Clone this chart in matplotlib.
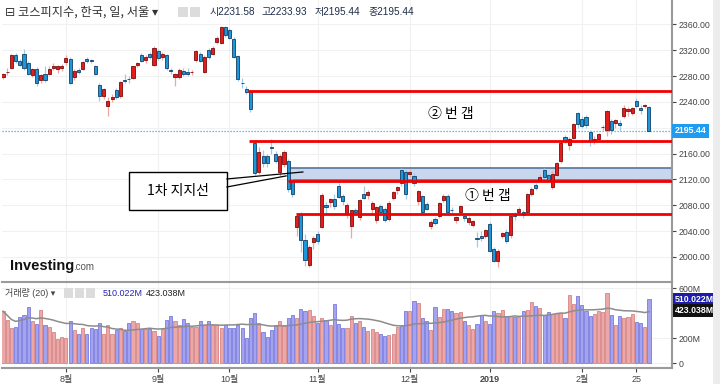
import numpy as np
import pandas as pd
import matplotlib
matplotlib.use("Agg")
import matplotlib.pyplot as plt
from matplotlib.patches import Rectangle

plt.rcParams['font.family'] = ['Liberation Sans', 'Noto Sans CJK KR', 'DejaVu Sans']

# --- daily KOSPI candles, 2018-07-11 .. 2019-02-28 ---
opens = [2279, 2286, 2293, 2313, 2304, 2315, 2300, 2282, 2291, 2274,
         2284, 2284, 2293, 2291, 2293, 2302, 2306, 2279, 2290, 2291,
         2307, 2304, 2296, 2267, 2250, 2234, 2245, 2259, 2249, 2274,
         2276, 2277, 2297, 2313, 2305, 2314, 2298, 2319, 2309, 2312,
         2289, 2278, 2278, 2288, 2287, 2286, 2305, 2315, 2287, 2320,
         2315, 2333, 2332, 2356, 2351, 2338, 2311, 2270, 2260, 2256,
         2177, 2132, 2156, 2156, 2170, 2159, 2132, 2144, 2148, 2117,
         2047, 2067, 2026, 1987, 2023, 2036, 2047, 2081, 2085, 2090,
         2110, 2094, 2067, 2048, 2073, 2062, 2098, 2096, 2074, 2057,
         2079, 2074, 2059, 2092, 2104, 2135, 2132, 2128, 2126, 2087,
         2094, 2082, 2048, 2059, 2063, 2088, 2095, 2073, 2058, 2069,
         2064, 2054, 2050, 2030, 2033, 2033, 2051, 2012, 1994, 2033,
         2039, 2034, 2067, 2070, 2070, 2070, 2098, 2111, 2119, 2135,
         2127, 2108, 2127, 2148, 2185, 2173, 2184, 2223, 2213, 2217,
         2193, 2181, 2183, 2201, 2196, 2211, 2208, 2208, 2218, 2226,
         2223, 2242, 2230, 2234, 2231.58]
highs = [2285, 2292, 2315, 2316, 2307, 2322, 2303, 2293, 2294, 2284,
         2295, 2296, 2300, 2298, 2299, 2313, 2309, 2291, 2293, 2304,
         2310, 2306, 2298, 2270, 2262, 2248, 2252, 2262, 2272, 2283,
         2280, 2296, 2302, 2316, 2312, 2318, 2326, 2322, 2318, 2315,
         2293, 2285, 2292, 2293, 2292, 2290, 2321, 2318, 2312, 2323,
         2326, 2342, 2357, 2358, 2354, 2340, 2313, 2277, 2264, 2258,
         2181, 2170, 2166, 2160, 2182, 2164, 2160, 2165, 2152, 2120,
         2068, 2070, 2035, 2018, 2033, 2040, 2099, 2085, 2092, 2097,
         2114, 2098, 2083, 2073, 2076, 2090, 2110, 2103, 2086, 2079,
         2082, 2077, 2086, 2102, 2110, 2138, 2136, 2136, 2130, 2104,
         2096, 2085, 2058, 2062, 2085, 2097, 2098, 2077, 2064, 2080,
         2067, 2064, 2058, 2038, 2040, 2044, 2054, 2015, 2012, 2039,
         2044, 2066, 2070, 2078, 2073, 2099, 2108, 2114, 2128, 2137,
         2130, 2133, 2147, 2179, 2189, 2185, 2208, 2225, 2218, 2220,
         2196, 2188, 2192, 2205, 2228, 2214, 2214, 2212, 2236, 2232,
         2232, 2246, 2235, 2237, 2233.93]
lows = [2276, 2282, 2291, 2300, 2296, 2290, 2281, 2278, 2265, 2270,
        2271, 2281, 2289, 2285, 2288, 2298, 2268, 2274, 2283, 2290,
        2300, 2300, 2281, 2241, 2245, 2219, 2240, 2244, 2246, 2269,
        2270, 2275, 2294, 2302, 2300, 2307, 2296, 2305, 2305, 2290,
        2283, 2265, 2275, 2280, 2280, 2281, 2302, 2302, 2285, 2307,
        2313, 2330, 2330, 2341, 2337, 2308, 2272, 2262, 2252, 2225,
        2127, 2128, 2140, 2140, 2160, 2146, 2125, 2140, 2100, 2093,
        2033, 2008, 1986, 1985, 2012, 2020, 2045, 2068, 2078, 2074,
        2092, 2080, 2060, 2030, 2066, 2058, 2090, 2090, 2068, 2052,
        2068, 2054, 2056, 2088, 2098, 2110, 2090, 2124, 2110, 2080,
        2066, 2072, 2044, 2050, 2060, 2085, 2068, 2066, 2052, 2066,
        2056, 2050, 2046, 2016, 2025, 2030, 2008, 1992, 1984, 2030,
        2022, 2030, 2058, 2066, 2060, 2068, 2094, 2104, 2117, 2122,
        2117, 2105, 2125, 2146, 2176, 2165, 2183, 2200, 2200, 2200,
        2172, 2175, 2180, 2196, 2188, 2190, 2200, 2195, 2215, 2218,
        2220, 2230, 2222, 2230, 2195.44]
closes = [2283, 2287, 2312, 2303, 2298, 2292, 2283, 2291, 2270, 2281,
          2274, 2291, 2296, 2295, 2296, 2308, 2270, 2288, 2287, 2302,
          2303, 2303.5, 2283, 2249, 2260, 2241, 2248, 2248, 2271, 2273,
          2275, 2295, 2300, 2304, 2309, 2309, 2324, 2308, 2315, 2292,
          2288, 2283, 2289, 2283, 2283, 2286.5, 2319, 2304, 2310, 2309,
          2324, 2339, 2356, 2344, 2339, 2310, 2275, 2269, 2255, 2229,
          2130, 2163, 2145, 2145, 2168, 2149, 2157, 2162, 2106, 2098,
          2064, 2027, 1996, 2015, 2030, 2024, 2096, 2077, 2090, 2079,
          2093, 2086, 2081, 2072, 2069, 2088, 2092, 2101, 2083, 2077,
          2070, 2057, 2084, 2100, 2108, 2114, 2097, 2132, 2114, 2102,
          2069, 2075, 2054, 2053, 2083, 2095, 2070, 2072, 2062, 2079,
          2060, 2061, 2055, 2028, 2029, 2041, 2010, 1993, 2010, 2037,
          2025, 2064, 2063, 2075, 2065, 2097, 2106, 2107, 2124, 2124,
          2119, 2128, 2145, 2177, 2181, 2183, 2206, 2206, 2203, 2204,
          2180, 2181.5, 2190, 2201.5, 2226, 2196, 2212, 2205, 2231, 2229,
          2231, 2233, 2227, 2234.5, 2195.44]
# volume, millions of shares
volumes = [416, 349, 283, 288, 368, 389, 451, 341, 315, 424,
           309, 288, 251, 195, 208, 203, 336, 261, 235, 283,
           235, 283, 269, 323, 235, 309, 229, 261, 277, 256,
           323, 336, 323, 269, 269, 269, 256, 216, 269, 349,
           381, 336, 309, 357, 323, 288, 288, 336, 309, 336,
           309, 309, 283, 304, 283, 277, 309, 283, 203, 363,
           400, 323, 251, 208, 261, 309, 336, 296, 363, 389,
           363, 437, 416, 429, 376, 323, 363, 344, 304, 475,
           315, 283, 283, 376, 323, 336, 288, 256, 269, 251,
           235, 216, 224, 229, 288, 296, 416, 421, 496, 483,
           363, 336, 261, 448, 368, 437, 437, 416, 403, 411,
           341, 301, 269, 315, 389, 336, 315, 421, 403, 429,
           376, 376, 368, 368, 421, 429, 491, 456, 443, 389,
           411, 395, 400, 403, 363, 544, 475, 536, 469, 416,
           376, 395, 416, 411, 563, 389, 301, 376, 363, 368,
           395, 328, 323, 288, 510.022]

month_ticks = [15, 37, 54, 75, 97, 116, 138, 151]
month_labels = ['8월', '9월', '10월', '11월', '12월', '2019', '2월', '25']
price_ticks = [2000, 2040, 2080, 2120, 2160, 2200, 2240, 2280, 2320, 2360]

gap_levels = [2257, 2180, 2118, 2067]
gap_start = [58.5, 58.6, 67.9, 69.8]
support_zone = (2119, 2137)

last_close = 2195.44
vol_last, vol_ma_last = 510.022, 423.038

W, H = 720, 384
fig = plt.figure(figsize=(W / 100, H / 100), dpi=100)
fig.patch.set_facecolor('white')

def fx(px):
    return px / W

def fy(py):
    return 1 - py / H

ax = fig.add_axes([fx(2), fy(281), fx(672) - fx(2), fy(0) - fy(281)])
vax = fig.add_axes([fx(2), fy(368), fx(672) - fx(2), fy(282) - fy(368)], sharex=ax)

x = np.arange(len(closes))
o, h, l, c = map(np.array, (opens, highs, lows, closes))
up = c >= o

# price panel
body_fill = np.where(up, '#e51c1c', '#1d97dc')
body_edge = np.where(up, '#7a0c0c', '#153e62')
wick_col = np.where(up, '#f2a3a3', '#9fcbe6')
ax.vlines(x, l, h, colors=wick_col, lw=0.9, zorder=2)
ax.bar(x, np.maximum(np.abs(c - o), 0.9), 0.74, bottom=np.minimum(o, c),
       color=body_fill, edgecolor=body_edge, lw=0.6, zorder=3)

xmax = 159.5
ax.set_xlim(-0.24, xmax)
ax.set_ylim(1962.8, 2397.9)

ax.add_patch(Rectangle((gap_start[2], support_zone[0]), xmax - gap_start[2],
                       support_zone[1] - support_zone[0],
                       fc='#c8d7ee', ec='#56749c', lw=1.2, zorder=1.5))
for lev, st in zip(gap_levels, gap_start):
    ax.hlines(lev, st, xmax, colors='#f20000', lw=2.0, zorder=4)

ax.axhline(last_close, color='#3aa8f2', ls=(0, (1, 1.4)), lw=0.9, zorder=1)

# annotations
kr = ['Noto Sans CJK KR', 'DejaVu Sans']
ax.text(106.8, 2221, '② 번 갭', fontsize=10, ha='center', va='center',
        family=kr, zorder=6)
ax.text(115.6, 2095, '① 번 갭', fontsize=10, ha='center', va='center',
        family=kr, zorder=6)
ax.add_patch(Rectangle((30.0, 2072.8), 23.4, 58.8, fc='white', ec='black',
                       lw=1.0, zorder=7))
ax.plot([53.4, 71.5], [2120.8, 2131.6], color='black', lw=0.9, zorder=7)
ax.plot([53.4, 67.5], [2108.4, 2125.5], color='black', lw=0.9, zorder=7)
ax.text(41.7, 2102, '1차 지지선', fontsize=10, ha='center', va='center',
        family=kr, zorder=8)

ax.set_yticks(price_ticks)
# the 2200 label sits behind the last-price box
ax.set_yticklabels(['' if p == 2200 else f'{p:.2f}' for p in price_ticks])
ax.yaxis.tick_right()
ax.tick_params(axis='y', labelsize=6.3, colors='#444444', length=3, pad=2)
ax.tick_params(axis='x', bottom=False, labelbottom=False)
ax.set_xticks(month_ticks)
ax.grid(True, color='#f1f1f1', lw=0.8, zorder=0)
ax.set_axisbelow(True)
for side in ('top', 'left', 'bottom'):
    ax.spines[side].set_visible(False)
ax.spines['right'].set_color('#9a9a9a')
ax.spines['right'].set_linewidth(1.5)

ax.text(1.004, last_close, f'{last_close:.2f}', transform=ax.get_yaxis_transform(),
        ha='left', va='center', fontsize=6.3, color='white', weight='bold',
        bbox=dict(boxstyle='square,pad=0.3', fc='#1f9bf0', ec='none'), zorder=10,
        clip_on=False)

# volume panel
vax.bar(x, volumes, 0.75, color=np.where(up, '#eba8a8', '#a3a3ee'),
        edgecolor=np.where(up, '#d98383', '#7b7be0'), lw=0.6, zorder=2)
vma = pd.Series(volumes).rolling(20, min_periods=1).mean()
vax.plot(x, vma, color='#8c8c8c', lw=1.1, zorder=3)
vax.set_ylim(-40, 650)
vax.set_yticks([0, 200, 600])
vax.set_yticklabels(['0', '200M', '600M'])
vax.yaxis.tick_right()
vax.tick_params(axis='y', labelsize=6.3, colors='#444444', length=3, pad=2)
vax.set_xticks(month_ticks)
vax.set_xticklabels(month_labels)
vax.tick_params(axis='x', labelsize=6.5, colors='#444444', length=3, pad=2)
for t in vax.get_xticklabels():
    if t.get_text() == '2019':
        t.set_fontweight('bold')
vax.grid(True, color='#f1f1f1', lw=0.8, zorder=0)
vax.set_axisbelow(True)
vax.spines['left'].set_visible(False)
for side in ('top', 'bottom', 'right'):
    vax.spines[side].set_color('#9a9a9a')
    vax.spines[side].set_linewidth(1.5)

vax.text(1.004, vol_last, f'{vol_last:.3f}M', transform=vax.get_yaxis_transform(),
         ha='left', va='center', fontsize=6.3, color='white', weight='bold',
         bbox=dict(boxstyle='square,pad=0.2', fc='#1c1ca8', ec='none'), zorder=10,
         clip_on=False)
vax.text(1.004, vol_ma_last, f'{vol_ma_last:.3f}M', transform=vax.get_yaxis_transform(),
         ha='left', va='center', fontsize=6.3, color='white', weight='bold',
         bbox=dict(boxstyle='square,pad=0.2', fc='#111111', ec='none'), zorder=10,
         clip_on=False)

# header texts
fig.text(fx(5), fy(12), '⊟ 코스피지수, 한국, 일, 서울 ▾', fontsize=8.8, color='#333333',
         va='center', ha='left', family=['Noto Sans CJK KR', 'DejaVu Sans'])
for px_, lab in zip([210, 261, 315, 369],
                    ['시2231.58', '고2233.93', '저2195.44', '종2195.44']):
    fig.text(fx(px_), fy(12), lab, fontsize=7.2, color='#1f2d4a', va='center', ha='left')
for px_ in (183, 195):
    fig.patches.append(Rectangle((fx(px_ - 5), fy(17)), fx(10), fy(7) - fy(17),
                                 transform=fig.transFigure, fc='#dcdcdc', ec='none'))
fig.text(fx(5), fy(293), '거래량 (20) ▾', fontsize=6.5, color='#444444', va='center',
         ha='left')
for px_ in (69, 80, 91):
    fig.patches.append(Rectangle((fx(px_ - 5), fy(298)), fx(9), fy(288) - fy(298),
                                 transform=fig.transFigure, fc='#dcdcdc', ec='none'))
fig.text(fx(103), fy(293), '510.022M', fontsize=6.5, color='#2424b0', va='center', ha='left')
fig.text(fx(146), fy(293), '423.038M', fontsize=6.5, color='#222222', va='center', ha='left')

# logo
fig.text(fx(10), fy(266), 'Investing', fontsize=10.5, weight='bold', color='#111111',
         va='center', ha='left')
fig.text(fx(73), fy(267.5), '.com', fontsize=7, color='#555555', va='center', ha='left')

# right-hand strip
fig.patches.append(Rectangle((fx(713), 0), fx(7), 1, transform=fig.transFigure,
                             fc='#ececec', ec='none'))

fig.savefig('out.png', dpi=100)
